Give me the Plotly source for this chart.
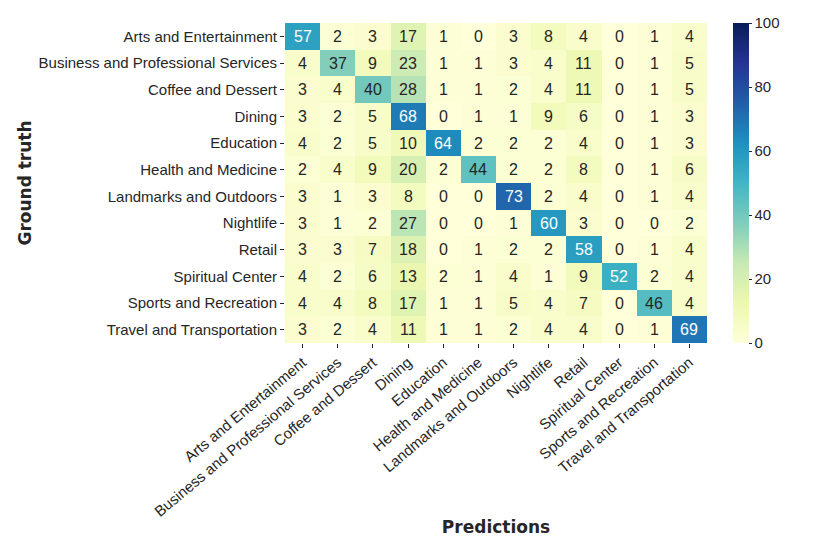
import plotly.graph_objects as go

categories = [
    "Arts and Entertainment",
    "Business and Professional Services",
    "Coffee and Dessert",
    "Dining",
    "Education",
    "Health and Medicine",
    "Landmarks and Outdoors",
    "Nightlife",
    "Retail",
    "Spiritual Center",
    "Sports and Recreation",
    "Travel and Transportation",
]

row_arts = [57, 2, 3, 17, 1, 0, 3, 8, 4, 0, 1, 4]
row_business = [4, 37, 9, 23, 1, 1, 3, 4, 11, 0, 1, 5]
row_coffee = [3, 4, 40, 28, 1, 1, 2, 4, 11, 0, 1, 5]
row_dining = [3, 2, 5, 68, 0, 1, 1, 9, 6, 0, 1, 3]
row_education = [4, 2, 5, 10, 64, 2, 2, 2, 4, 0, 1, 3]
row_health = [2, 4, 9, 20, 2, 44, 2, 2, 8, 0, 1, 6]
row_landmarks = [3, 1, 3, 8, 0, 0, 73, 2, 4, 0, 1, 4]
row_nightlife = [3, 1, 2, 27, 0, 0, 1, 60, 3, 0, 0, 2]
row_retail = [3, 3, 7, 18, 0, 1, 2, 2, 58, 0, 1, 4]
row_spiritual = [4, 2, 6, 13, 2, 1, 4, 1, 9, 52, 2, 4]
row_sports = [4, 4, 8, 17, 1, 1, 5, 4, 7, 0, 46, 4]
row_travel = [3, 2, 4, 11, 1, 1, 2, 4, 4, 0, 1, 69]

values = [row_arts, row_business, row_coffee, row_dining, row_education, row_health,
          row_landmarks, row_nightlife, row_retail, row_spiritual, row_sports, row_travel]

colorbar_ticks = [0, 20, 40, 60, 80, 100]

ylgnbu_colors = ["#ffffd9", "#edf8b1", "#c7e9b4", "#7fcdbb", "#41b6c4",
                 "#1d91c0", "#225ea8", "#253494", "#081d58"]
colorscale = [[i / (len(ylgnbu_colors) - 1), c] for i, c in enumerate(ylgnbu_colors)]

dark = "#262626"
tick_font = dict(family="Liberation Sans, Arial, sans-serif", size=15, color=dark)
title_font = dict(family="DejaVu Sans, sans-serif", size=17, color=dark)

fig = go.Figure(
    go.Heatmap(
        z=values,
        x=categories,
        y=categories,
        zmin=0,
        zmax=100,
        colorscale=colorscale,
        hoverinfo="skip",
        colorbar=dict(
            thickness=16,
            len=1,
            lenmode="fraction",
            x=1.0616,
            xanchor="left",
            xpad=0,
            y=0.5,
            yanchor="middle",
            ypad=0,
            outlinewidth=0,
            ticks="outside",
            ticklen=3,
            tickcolor=dark,
            tickvals=colorbar_ticks,
            tickfont=tick_font,
        ),
    )
)

annotations = []
for i, row in enumerate(values):
    for j, v in enumerate(row):
        annotations.append(dict(
            x=categories[j], y=categories[i], xref="x", yref="y",
            text=str(v), showarrow=False,
            font=dict(family="Liberation Sans, Arial, sans-serif", size=16,
                      color="white" if v > 50 else dark),
        ))

fig.update_layout(
    width=822,
    height=546,
    margin=dict(l=277, r=123, t=15, b=211),
    paper_bgcolor="white",
    plot_bgcolor="white",
    annotations=annotations,
    xaxis=dict(
        tickangle=-40,
        ticks="outside",
        ticklen=4,
        tickcolor=dark,
        tickfont=tick_font,
        showgrid=False,
        zeroline=False,
        showline=False,
        automargin=False,
        title=dict(text="<b>Predictions</b>", font=title_font, standoff=2),
    ),
    yaxis=dict(
        autorange="reversed",
        ticks="outside",
        ticklen=4,
        tickcolor=dark,
        tickfont=tick_font,
        showgrid=False,
        zeroline=False,
        showline=False,
        automargin=False,
        title=dict(text="<b>Ground truth</b>", font=title_font, standoff=2),
    ),
)

fig.write_html("out.html")
